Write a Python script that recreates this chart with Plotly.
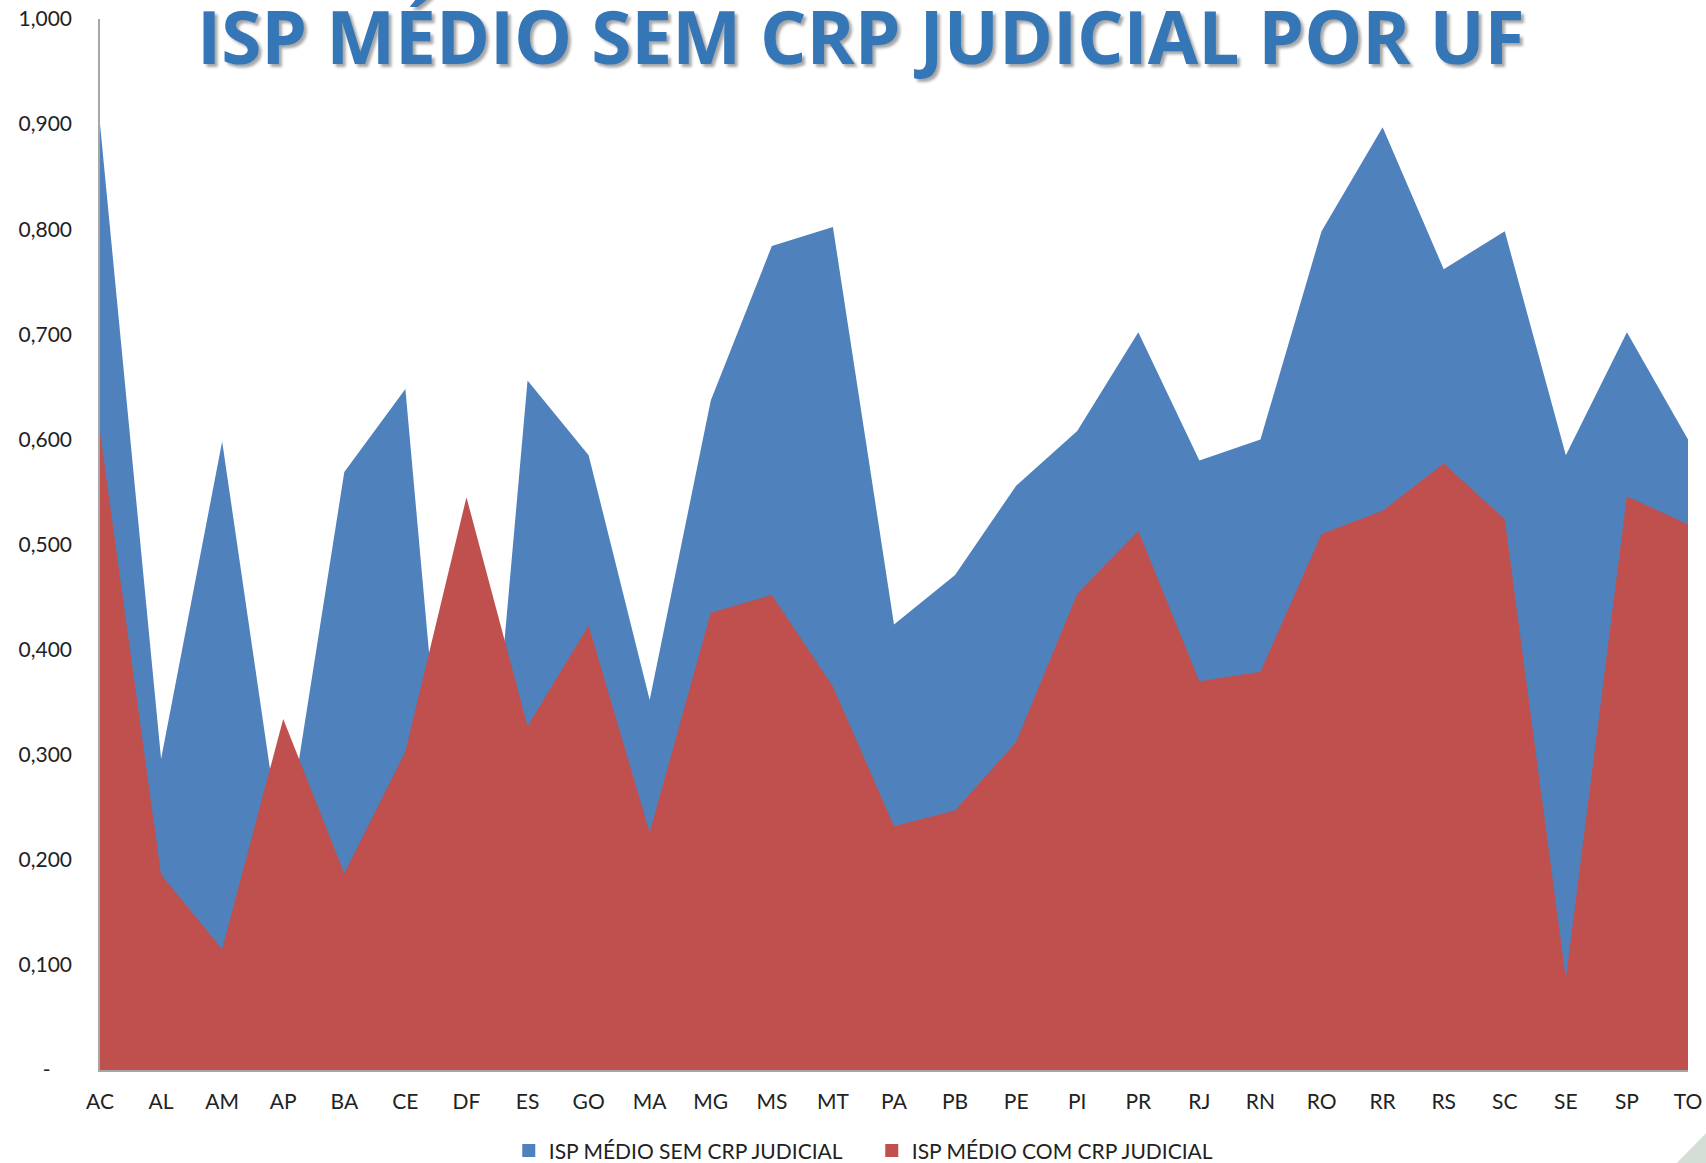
import plotly.graph_objects as go

ufs = ["AC","AL","AM","AP","BA","CE","DF","ES","GO","MA","MG","MS","MT","PA",
       "PB","PE","PI","PR","RJ","RN","RO","RR","RS","SC","SE","SP","TO"]

isp_sem_crp = [0.900, 0.296, 0.598, 0.200, 0.569, 0.648, 0.000, 0.656, 0.585, 0.352,
               0.637, 0.784, 0.802, 0.424, 0.471, 0.556, 0.608, 0.702, 0.580, 0.600,
               0.798, 0.897, 0.762, 0.798, 0.585, 0.702, 0.600]

isp_com_crp = [0.607, 0.186, 0.115, 0.334, 0.187, 0.303, 0.545, 0.327, 0.423, 0.226,
               0.435, 0.452, 0.365, 0.232, 0.247, 0.312, 0.453, 0.513, 0.370, 0.379,
               0.510, 0.532, 0.577, 0.524, 0.087, 0.546, 0.519]

y_tick_vals = [0, 0.1, 0.2, 0.3, 0.4, 0.5, 0.6, 0.7, 0.8, 0.9, 1.0]
y_tick_text = ["-\u00a0\u00a0\u00a0\u00a0", "0,100", "0,200", "0,300", "0,400", "0,500",
               "0,600", "0,700", "0,800", "0,900", "1,000"]

series_names = ["ISP MÉDIO SEM CRP JUDICIAL", "ISP MÉDIO COM CRP JUDICIAL"]
title_text = "ISP MÉDIO SEM CRP JUDICIAL POR UF"

BLUE = "#4F81BD"
RED = "#C0504D"

fig = go.Figure()
fig.add_trace(go.Scatter(x=ufs, y=isp_sem_crp, mode="lines", fill="tozeroy",
                         line=dict(width=0, color=BLUE), fillcolor=BLUE,
                         showlegend=False, hoverinfo="x+y", name=series_names[0]))
fig.add_trace(go.Scatter(x=ufs, y=isp_com_crp, mode="lines", fill="tozeroy",
                         line=dict(width=0, color=RED), fillcolor=RED,
                         showlegend=False, hoverinfo="x+y", name=series_names[1]))
# legend entries (square markers)
for name, col in zip(series_names, [BLUE, RED]):
    fig.add_trace(go.Scatter(x=[None], y=[None], mode="markers", name=name,
                             marker=dict(symbol="square", size=13, color=col)))

FONT = "Lato"
fig.update_layout(
    width=1706, height=1163,
    margin=dict(l=100, r=18, t=19, b=93, autoexpand=False),
    paper_bgcolor="white", plot_bgcolor="white",
    font=dict(family=FONT, size=21, color="#222222"),
    showlegend=True,
    legend=dict(orientation="h", x=0.486, xanchor="center", y=-0.077, yanchor="middle",
                font=dict(family=FONT, size=21, color="#222222"),
                itemwidth=30, entrywidth=318, entrywidthmode="pixels",
                tracegroupgap=0, traceorder="normal"),
    xaxis=dict(type="category", range=[0, len(ufs) - 1], showgrid=False,
               showline=True, linecolor="#A6A6A6", linewidth=1.5,
               ticks="", ticklabelstandoff=12, zeroline=False,
               tickfont=dict(family=FONT, size=21, color="#222222")),
    yaxis=dict(range=[0, 1.0], tickvals=y_tick_vals, ticktext=y_tick_text,
               showgrid=False, showline=True, linecolor="#A6A6A6", linewidth=1.5,
               ticks="", ticklabelstandoff=22, zeroline=False,
               ticklabeloverflow="allow",
               tickfont=dict(family=FONT, size=21, color="#222222")),
    annotations=[dict(text="<b>" + title_text + "</b>", xref="paper", yref="paper",
                      x=0.479, y=0.984, xanchor="center", yanchor="middle",
                      showarrow=False,
                      font=dict(family="Open Sans", size=73, color="#3476B6",
                                shadow="3px 3px 3px rgba(0,0,0,0.35)"))],
    shapes=[dict(type="path", xref="paper", yref="paper",
                 path="M 0.9929 -0.0885 L 1.0113 -0.0602 L 1.02 -0.0602 L 1.02 -0.1 L 0.9929 -0.1 Z",
                 fillcolor="#D5DED5", line=dict(width=0), layer="above")],
)

# remove the browser's default page margin so the figure fills the window exactly
fig.write_html("out.html", config={"displayModeBar": False},
               post_script="document.body.style.margin='0';document.body.style.overflow='hidden';")
